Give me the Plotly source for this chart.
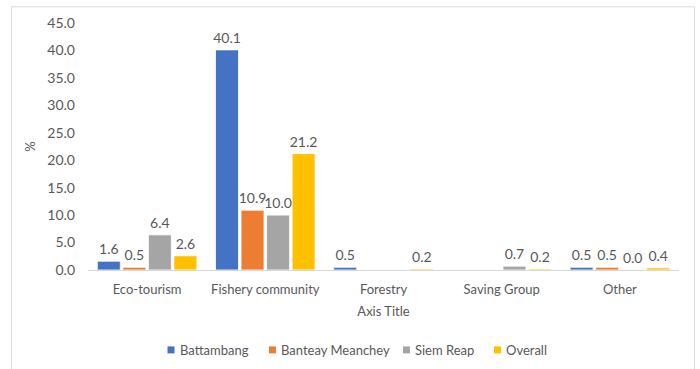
import plotly.graph_objects as go

# Share of respondents by type of community group (%)
categories = ["Eco-tourism", "Fishery community", "Forestry", "Saving Group", "Other"]
provinces = ["Battambang", "Banteay Meanchey", "Siem Reap", "Overall"]
battambang = [1.6, 40.1, 0.5, None, 0.5]
banteay_meanchey = [0.5, 10.9, None, None, 0.5]
siem_reap = [6.4, 10.0, None, 0.7, 0.0]
overall = [2.6, 21.2, 0.2, 0.2, 0.4]
y_ticks = [0, 5, 10, 15, 20, 25, 30, 35, 40, 45]

series = [battambang, banteay_meanchey, siem_reap, overall]
colors = ["#4472C4", "#ED7D31", "#A5A5A5", "#FFC000"]
text_color = "#595959"
font_family = "Lato, 'Open Sans', sans-serif"

# plot area in pixels (used to place the legend and the chart frame)
PLOT_L, PLOT_R, PLOT_T, PLOT_B = 88, 679, 22.7, 270


def px_x(p):
    return (p - PLOT_L) / (PLOT_R - PLOT_L)


def px_y(p):
    return (PLOT_B - p) / (PLOT_B - PLOT_T)


fig = go.Figure()
for name, vals, col in zip(provinces, series, colors):
    fig.add_trace(go.Bar(
        x=categories,
        y=vals,
        name=name,
        showlegend=False,
        marker=dict(color=col, line=dict(color="white", width=0.8)),
    ))

# value labels, grouped the same way as the bars
for name, vals in zip(provinces, series):
    fig.add_trace(go.Scatter(
        x=categories,
        y=vals,
        name=name,
        mode="markers+text",
        showlegend=False,
        hoverinfo="skip",
        marker=dict(size=4, opacity=0),
        text=[("" if v is None else f"{v:.1f}") for v in vals],
        textposition="top center",
        cliponaxis=False,
        textfont=dict(color=text_color, size=14, family=font_family),
    ))

# legend: small colour square followed by the series name
legend_square_x = [167.5, 269, 403, 494]
legend_y = 350
shapes = [
    dict(type="rect", xref="paper", yref="paper",
         x0=px_x(11.5), x1=px_x(694.5), y0=px_y(380), y1=px_y(6.5),
         line=dict(color="#D9D9D9", width=1), fillcolor="rgba(0,0,0,0)",
         layer="below"),
]
annotations = []
for name, col, sx in zip(provinces, colors, legend_square_x):
    shapes.append(dict(
        type="rect", xref="paper", yref="paper",
        x0=px_x(sx), x1=px_x(sx + 7), y0=px_y(legend_y + 3.5), y1=px_y(legend_y - 3.5),
        line=dict(width=0), fillcolor=col,
    ))
    annotations.append(dict(
        text=name, xref="paper", yref="paper",
        x=px_x(sx + 10), y=px_y(legend_y), xanchor="left", yanchor="middle",
        showarrow=False, font=dict(size=13, color=text_color, family=font_family),
    ))

fig.update_layout(
    width=700,
    height=369,
    margin=dict(l=PLOT_L, r=700 - PLOT_R, t=PLOT_T, b=369 - PLOT_B),
    paper_bgcolor="white",
    plot_bgcolor="white",
    barmode="group",
    bargap=0.136,
    bargroupgap=0.1,
    scattermode="group",
    scattergap=0.136,
    font=dict(family=font_family, color=text_color, size=13),
    showlegend=False,
    xaxis=dict(
        title=dict(text="Axis Title", standoff=11, font=dict(size=13, color=text_color)),
        showline=True,
        linecolor="#D9D9D9",
        linewidth=1,
        showgrid=False,
        ticks="",
        ticklabelstandoff=7,
        tickfont=dict(size=13, color=text_color),
    ),
    yaxis=dict(
        title=dict(text="%", standoff=8, font=dict(size=13, color=text_color)),
        range=[0, 45],
        tickvals=y_ticks,
        tickformat=".1f",
        showgrid=False,
        zeroline=False,
        showline=False,
        ticks="",
        ticklabelstandoff=12,
        tickfont=dict(size=14, color=text_color),
    ),
    shapes=shapes,
    annotations=annotations,
)

fig.write_html("out.html")
